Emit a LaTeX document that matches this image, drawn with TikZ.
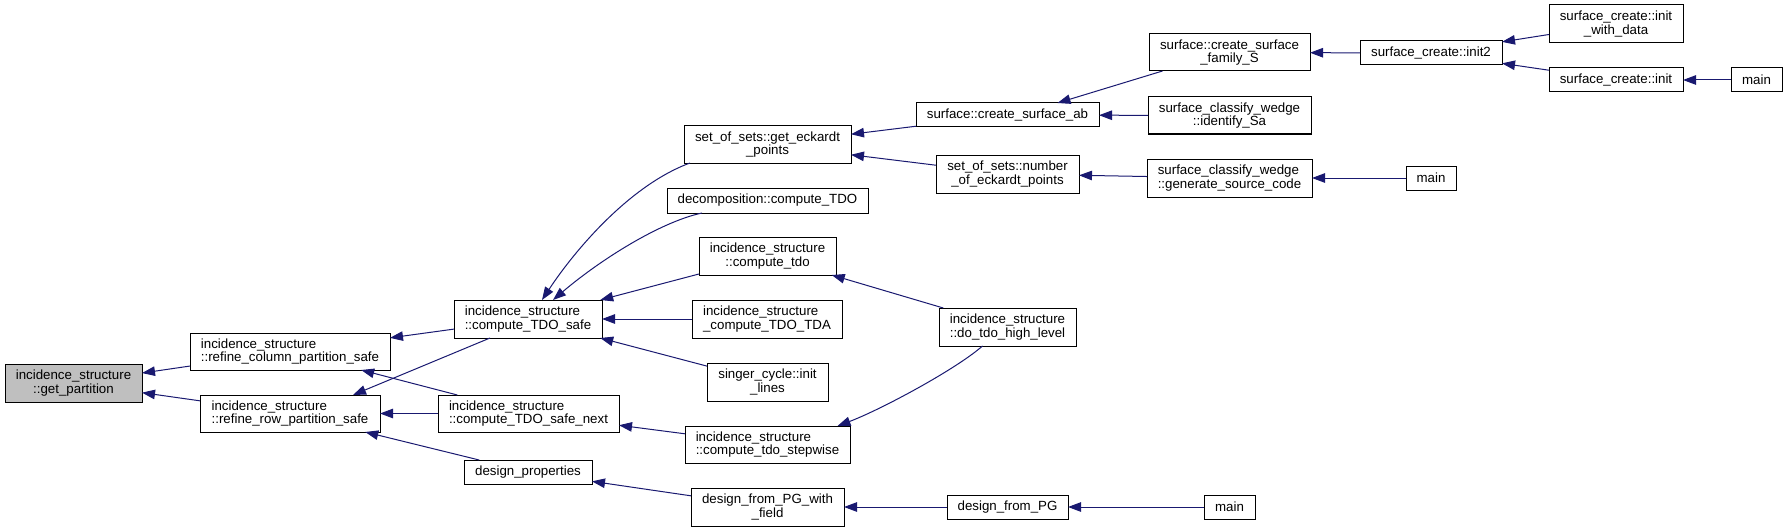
\documentclass[tikz,border=0pt]{standalone}
\usepackage{fontspec}
\setmainfont{Liberation Sans}
\usetikzlibrary{arrows.meta}
\definecolor{edgeblue}{HTML}{191970}
\definecolor{hilite}{HTML}{BFBFBF}
\tikzset{
  box/.style={draw=black, line width=1pt, fill=white, inner sep=0pt, outer sep=0pt,
    font=\fontsize{13.3}{13.4}\selectfont, align=center},
  boxl/.style={box, align=left},
  edge/.style={draw=edgeblue, line width=1pt, -{Triangle[length=13pt,width=9.5pt]}}
}
\begin{document}
\begin{tikzpicture}[x=1pt,y=-1pt]
\useasboundingbox (0,0) rectangle (1787,532);
% nodes
\node[box, fill=hilite, minimum width=137, minimum height=38] (gp) at (73.5,383) {incidence\_structure\\::get\_partition};
\node[boxl, minimum width=200, minimum height=37] (rc) at (290,351.5) {incidence\_structure\\::refine\_column\_partition\_safe};
\node[boxl, minimum width=180, minimum height=37] (rr) at (290,413.5) {incidence\_structure\\::refine\_row\_partition\_safe};
\node[boxl, minimum width=148, minimum height=38] (cts) at (528,319) {incidence\_structure\\::compute\_TDO\_safe};
\node[boxl, minimum width=181, minimum height=37] (ctsn) at (528.5,413.5) {incidence\_structure\\::compute\_TDO\_safe\_next};
\node[box, minimum width=128, minimum height=24] (dp) at (528,472) {design\_properties};
\node[box, minimum width=167, minimum height=37] (gep) at (767.5,144.5) {set\_of\_sets::get\_eckardt\\\_points};
\node[box, minimum width=201, minimum height=25] (dec) at (767.5,200.5) {decomposition::compute\_TDO};
\node[box, minimum width=137, minimum height=38] (ctdo) at (767.5,256) {incidence\_structure\\::compute\_tdo};
\node[boxl, minimum width=150, minimum height=38] (tda) at (767,319) {incidence\_structure\\\_compute\_TDO\_TDA};
\node[box, minimum width=121, minimum height=38] (scil) at (767.5,382) {singer\_cycle::init\\\_lines};
\node[boxl, minimum width=165, minimum height=37] (stepw) at (767.5,444.5) {incidence\_structure\\::compute\_tdo\_stepwise};
\node[box, minimum width=153, minimum height=38] (dfpgf) at (767.5,507) {design\_from\_PG\_with\\\_field};
\node[box, minimum width=183, minimum height=24] (csab) at (1007.5,115) {surface::create\_surface\_ab};
\node[box, minimum width=143, minimum height=38] (noep) at (1007.5,174) {set\_of\_sets::number\\\_of\_eckardt\_points};
\node[boxl, minimum width=137, minimum height=38] (dthl) at (1007.5,327) {incidence\_structure\\::do\_tdo\_high\_level};
\node[box, minimum width=121, minimum height=24] (dfpg) at (1007.5,507) {design\_from\_PG};
\node[box, minimum width=161, minimum height=37] (csfs) at (1229.5,52.5) {surface::create\_surface\\\_family\_S};
\node[box, minimum width=163, minimum height=37] (isa) at (1229.5,115.5) {surface\_classify\_wedge\\::identify\_Sa};
\node[boxl, minimum width=165, minimum height=38] (gsc) at (1229.5,178) {surface\_classify\_wedge\\::generate\_source\_code};
\node[box, minimum width=51, minimum height=24] (m1) at (1229.5,507) {main};
\node[box, minimum width=142, minimum height=24] (init2) at (1431,53) {surface\_create::init2};
\node[box, minimum width=50, minimum height=24] (m2) at (1431,178) {main};
\node[box, minimum width=134, minimum height=38] (iwd) at (1616,24) {surface\_create::init\\\_with\_data};
\node[box, minimum width=134, minimum height=24] (init) at (1616,80) {surface\_create::init};
\node[box, minimum width=51, minimum height=24] (m3) at (1756.5,80) {main};
% edges
\draw[edge] (rc) -- (gp);
\draw[edge] (rr) -- (gp);
\draw[edge] (cts) -- (rc);
\draw[edge] (ctsn) -- (rc);
\draw[edge] ([xshift=-38pt]cts.south) -- ([xshift=63pt]rr.north);
\draw[edge] (ctsn) -- (rr);
\draw[edge] (dp) -- (rr);
\draw[edge] ([xshift=6pt]gep.south west) .. controls (630,185) and (575,250) .. ([xshift=88pt]cts.north west);
\draw[edge] ([xshift=35pt]dec.south west) .. controls (660,222) and (600,260) .. ([xshift=99pt]cts.north west);
\draw[edge] (ctdo) -- (cts);
\draw[edge] (tda) -- (cts);
\draw[edge] (scil) -- (cts);
\draw[edge] (csab) -- (gep);
\draw[edge] (noep) -- (gep);
\draw[edge] ([xshift=-67pt]csfs.south) -- ([xshift=50pt]csab.north);
\draw[edge] (isa) -- (csab);
\draw[edge] (init2) -- (csfs);
\draw[edge] (iwd) -- (init2);
\draw[edge] (init) -- (init2);
\draw[edge] (m3) -- (init);
\draw[edge] (gsc) -- (noep);
\draw[edge] (m2) -- (gsc);
\draw[edge] (dthl) -- (ctdo);
\draw[edge] ([xshift=-25pt]dthl.south) .. controls (955,370) and (880,410) .. ([xshift=70pt]stepw.north);
\draw[edge] (stepw) -- (ctsn);
\draw[edge] (dfpgf) -- (dp);
\draw[edge] (dfpg) -- (dfpgf);
\draw[edge] (m1) -- (dfpg);
\end{tikzpicture}
\end{document}
